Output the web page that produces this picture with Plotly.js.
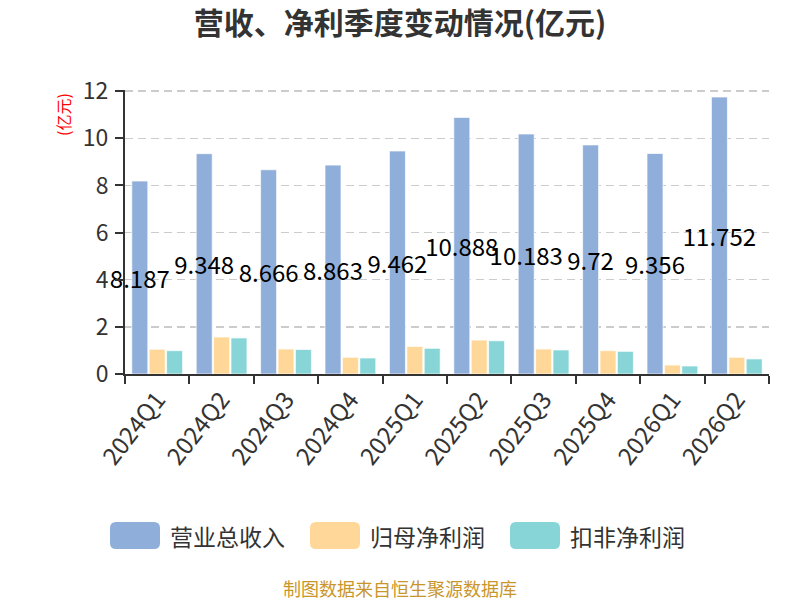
<!DOCTYPE html>
<html>
<head>
<meta charset="utf-8">
<script src="https://cdn.plot.ly/plotly-3.0.1.min.js"></script>
<style>
  html, body { margin: 0; padding: 0; background: #fff; }
  #chart { width: 800px; height: 600px; }
</style>
</head>
<body>
<div id="chart"></div>
<script>
// ── data (亿元) ──────────────────────────────────────────────
const quarters       = ['2024Q1', '2024Q2', '2024Q3', '2024Q4', '2025Q1', '2025Q2', '2025Q3', '2025Q4', '2026Q1', '2026Q2'];
const revenue        = [8.187, 9.348, 8.666, 8.863, 9.462, 10.888, 10.183, 9.72, 9.356, 11.752];
const netProfit      = [1.05, 1.57, 1.06, 0.71, 1.17, 1.44, 1.06, 0.99, 0.38, 0.71];
const deductedProfit = [0.99, 1.53, 1.04, 0.68, 1.09, 1.41, 1.02, 0.96, 0.34, 0.64];
const seriesNames    = ['营业总收入', '归母净利润', '扣非净利润'];
const yTicks         = [0, 2, 4, 6, 8, 10, 12];

const COLORS = ['#8faeda', '#ffd899', '#88d5d8'];
const FONT = '"Noto Sans CJK SC", "Noto Sans", sans-serif';
const TXT = '#333';

// plot area in pixels (used for converting the custom legend to paper coords)
const M = { l: 125, r: 31, t: 90, b: 226 };
const W = 800, H = 600;
const pw = W - M.l - M.r, ph = H - M.t - M.b;
const px = x => (x - M.l) / pw;
const py = y => (H - M.b - y) / ph;

/** rounded rectangle path in paper coords from pixel box */
function roundRect(x0, y0, x1, y1, r) {
    const rx = r / pw, ry = r / ph;
    const a = px(x0), b = px(x1), top = py(y0), bot = py(y1);
    return `M${a + rx},${top} L${b - rx},${top} Q${b},${top} ${b},${top - ry} ` +
           `L${b},${bot + ry} Q${b},${bot} ${b - rx},${bot} L${a + rx},${bot} ` +
           `Q${a},${bot} ${a},${bot + ry} L${a},${top - ry} Q${a},${top} ${a + rx},${top} Z`;
}

const barLine = { color: 'rgba(255,255,255,0.7)', width: 1 };

const data = [
    { type: 'bar', x: quarters, y: revenue, name: seriesNames[0],
      marker: { color: COLORS[0], line: barLine },
      text: revenue.map(String), textposition: 'inside', insidetextanchor: 'middle',
      constraintext: 'none', textangle: 0, cliponaxis: false,
      insidetextfont: { family: FONT, size: 24, color: '#000' },
      hoverinfo: 'skip' },
    { type: 'bar', x: quarters, y: netProfit, name: seriesNames[1],
      marker: { color: COLORS[1], line: barLine }, hoverinfo: 'skip' },
    { type: 'bar', x: quarters, y: deductedProfit, name: seriesNames[2],
      marker: { color: COLORS[2], line: barLine }, hoverinfo: 'skip' }
];

// custom legend: big rounded swatches + labels, 200px apart
const legendShapes = [], legendAnn = [];
seriesNames.forEach((name, i) => {
    const x0 = 110 + i * 200;
    legendShapes.push({ type: 'path', xref: 'paper', yref: 'paper',
        path: roundRect(x0, 522, x0 + 50, 549, 6),
        fillcolor: COLORS[i], line: { width: 0 } });
    legendAnn.push({ xref: 'paper', yref: 'paper', x: px(x0 + 58), y: py(535.5),
        xanchor: 'left', yanchor: 'middle', showarrow: false, text: name,
        font: { family: FONT, size: 23, color: TXT } });
});

const layout = {
    width: W, height: H,
    margin: M,
    paper_bgcolor: '#fff', plot_bgcolor: '#fff',
    font: { family: FONT, color: TXT },
    showlegend: false,
    barmode: 'group', bargap: 0.19, bargroupgap: 0.08,
    title: { text: '<b>营收、净利季度变动情况(亿元)</b>', x: 0.5, xref: 'container', xanchor: 'center',
             y: 1 - 23 / H, yanchor: 'middle', font: { family: FONT, size: 30, color: TXT } },
    xaxis: {
        type: 'category', tickson: 'boundaries', ticks: 'outside', ticklen: 8, tickwidth: 2,
        tickcolor: TXT, showline: true, linecolor: TXT, linewidth: 2, showgrid: false,
        tickangle: -52, tickfont: { family: FONT, size: 24, color: TXT }, fixedrange: true
    },
    yaxis: {
        range: [0, 12.05], tickvals: yTicks, ticks: 'outside', ticklen: 8, tickwidth: 2,
        tickcolor: TXT, showline: true, linecolor: TXT, linewidth: 2,
        showgrid: true, gridcolor: '#cccccc', gridwidth: 1.5, griddash: '8px,5px',
        zeroline: false, ticklabelstandoff: 2,
        tickfont: { family: FONT, size: 23, color: TXT }, fixedrange: true
    },
    shapes: legendShapes,
    annotations: [
        { xref: 'paper', yref: 'paper', x: px(63), y: py(115), xanchor: 'center', yanchor: 'middle',
          textangle: -90, showarrow: false, text: '(亿元)',
          font: { family: FONT, size: 16, color: '#ff0000' } },
        { xref: 'paper', yref: 'paper', x: px(400), xanchor: 'center', y: py(588), yanchor: 'middle',
          showarrow: false, text: '制图数据来自恒生聚源数据库',
          font: { family: FONT, size: 18, color: '#c9962c' } },
        ...legendAnn
    ]
};

Plotly.newPlot('chart', data, layout, { displayModeBar: false, staticPlot: true });
</script>
</body>
</html>
